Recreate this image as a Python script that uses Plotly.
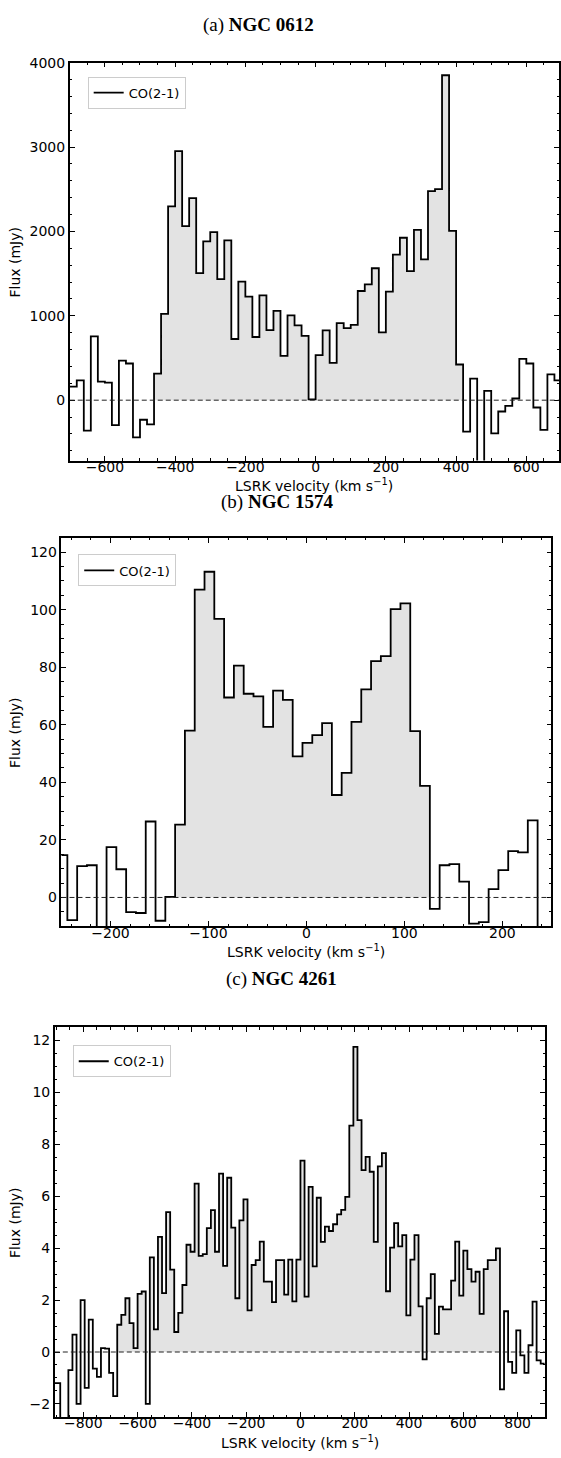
import numpy as np
import plotly.graph_objects as go

W, H = 561, 1458

# (a) NGC 0612, 20 km/s channels
vel_a = np.arange(-690, 700, 20)
flux_a = [160, 235, -361, 756, 219, 207, -295, 470, 435, -440,
          -232, -287, 314, 1023, 2298, 2952, 2062, 2396, 1506, 1882,
          1992, 1435, 1894, 725, 1404, 1227, 749, 1243, 831, 1058,
          525, 1004, 886, 761, 10, 533, 827, 443, 913, 854,
          893, 1294, 1372, 1564, 804, 1286, 1725, 1925, 1529, 2019,
          1670, 2478, 2502, 3851, 2007, 423, -373, 255, -900, 110,
          -393, -134, -67, 20, 490, 435, -87, -353, 306, 235]

# (b) NGC 1574, 10 km/s channels
vel_b = np.arange(-249, 260, 10)
flux_b = [14.7, -7.9, 10.9, 11.2, -14, 17.5, 9.8, -5.1, -5.4, 26.4,
          -8.1, 0.2, 25.3, 58.0, 107.0, 113.2, 96.8, 69.5, 80.6, 70.8,
          69.9, 59.3, 71.9, 68.7, 49.0, 53.7, 56.4, 60.6, 35.6, 43.3,
          61.0, 72.3, 82.1, 83.9, 100.2, 102.2, 57.8, 38.8, -4.0, 11.2,
          11.6, 5.5, -9.1, -8.6, 2.9, 9.5, 16.1, 15.7, 26.8, -15,
          -15]

# (c) NGC 4261, 15 km/s channels
vel_c = np.arange(-907.5, 900, 15)
flux_c = [-1.2, -1.2, -3.2, -3.0, -0.7, 0.67, -2.0, 2.0, -1.38, 1.25,
          -0.64, -0.96, 0.15, 0.13, -0.8, -1.7, 1.05, 1.43, 2.07, 1.11,
          0.15, 2.24, 2.33, -2.0, 3.64, 0.87, 4.43, 2.27, 5.39, 3.17,
          0.77, 1.51, 2.58, 4.13, 3.86, 6.48, 3.7, 3.77, 4.77, 5.46,
          3.86, 6.87, 3.32, 6.71, 4.79, 2.07, 5.07, 5.88, 1.6, 3.35,
          3.54, 4.25, 2.71, 2.71, 1.92, 3.54, 3.54, 2.21, 3.56, 1.95,
          3.56, 7.37, 2.13, 6.36, 3.3, 5.94, 4.24, 4.83, 4.66, 4.92,
          5.3, 5.47, 5.97, 8.72, 11.75, 8.93, 7.0, 7.51, 6.94, 4.24,
          7.15, 7.66, 2.34, 4.02, 4.96, 4.07, 4.5, 1.41, 3.56, 4.5,
          1.76, -0.28, 2.07, 3.0, 0.7, 1.75, 1.64, 1.64, 2.75, 4.25,
          2.17, 3.9, 3.19, 2.71, 3.09, 1.47, 3.19, 3.54, 3.54, 3.99,
          -1.44, 1.57, -0.38, -0.8, 0.83, -0.13, -0.8, 0.26, 1.94, -0.32,
          -0.45]

titulos = ["(a) <b>NGC 0612</b>", "(b) <b>NGC 1574</b>", "(c) <b>NGC 4261</b>"]
faixa_linha = [(-450, 410), (-129, 121), (-667.5, 727.5)]

# caixas em pixels: esquerda, direita, topo, base
paineis = [
    dict(box=(70, 561, 55, 455), xr=[-700, 693], yr=[-715, 4000],
         xd=200, xm=50, yd=1000, ym=200, title_xy=(259, 17), leg=(88, 69)),
    dict(box=(61.7, 553.3, 532.7, 923.3), xr=[-250, 250], yr=[-10, 125],
         xd=100, xm=20, yd=20, ym=5, title_xy=(278, 497), leg=(78.5, 549.5)),
    dict(box=(55, 546.7, 1025, 1416.7), xr=[-905, 900], yr=[-2.5, 12.5],
         xd=200, xm=50, yd=2, ym=0.5, title_xy=(283, 976), leg=(73, 1043)),
]

FONTE = "DejaVu Sans"
CINZA = "#e3e3e3"


def degraus(vel, flux):
    dv = vel[1] - vel[0]
    x = np.append(vel - dv / 2, vel[-1] + dv / 2)
    y = np.append(flux, flux[-1])
    return x, y


fig = go.Figure()
dados = [(vel_a, flux_a), (vel_b, flux_b), (vel_c, flux_c)]
anotacoes = []
formas = []

for i, ((vel, flux), p) in enumerate(zip(dados, paineis)):
    n = "" if i == 0 else str(i + 1)
    xa, ya = "x" + n, "y" + n
    flux = np.array(flux, dtype=float)

    lo, hi = faixa_linha[i]
    m = (vel >= lo) & (vel <= hi)
    fx, fy = degraus(vel[m], np.clip(flux[m], 0, None))
    fig.add_trace(go.Scatter(x=fx, y=fy, mode="lines", line=dict(width=0, shape="hv"),
                             fill="tozeroy", fillcolor=CINZA, showlegend=False,
                             hoverinfo="skip", xaxis=xa, yaxis=ya))

    sx, sy = degraus(vel, flux)
    fig.add_trace(go.Scatter(x=sx, y=sy, mode="lines", name="CO(2-1)",
                             line=dict(color="black", width=1.8, shape="hv"),
                             xaxis=xa, yaxis=ya, legend="legend" + n))

    formas.append(dict(type="line", xref=xa + " domain", yref=ya, x0=0, x1=1, y0=0, y1=0,
                       line=dict(color="#222", width=1, dash="5px,3px"), layer="above"))

    l, r, t, b = p["box"]
    eixo = dict(showgrid=False, zeroline=False, showline=True, linecolor="black",
                linewidth=1.5, mirror="allticks", ticks="inside", ticklen=5,
                tickwidth=1.2, tickcolor="black",
                tickfont=dict(family=FONTE, size=14, color="black"))
    fig.update_layout({
        "xaxis" + n: dict(eixo, domain=[l / W, r / W], range=p["xr"], anchor=ya,
                          dtick=p["xd"], tick0=0, ticklabelstandoff=-7,
                          minor=dict(ticks="inside", ticklen=2.5, dtick=p["xm"],
                                     tick0=0, tickcolor="black", tickwidth=1)),
        "yaxis" + n: dict(eixo, domain=[1 - b / H, 1 - t / H], range=p["yr"], anchor=xa,
                          dtick=p["yd"], tick0=0,
                          minor=dict(ticks="inside", ticklen=2.5, dtick=p["ym"],
                                     tick0=0, tickcolor="black", tickwidth=1)),
        "legend" + n: dict(x=p["leg"][0] / W, y=1 - p["leg"][1] / H, xanchor="left",
                           yanchor="top", bgcolor="white", bordercolor="#cccccc",
                           borderwidth=1, font=dict(family=FONTE, size=13, color="black")),
    })

    tx, ty = p["title_xy"]
    anotacoes.append(dict(text=titulos[i], x=tx / W, y=1 - ty / H, xref="paper", yref="paper",
                          showarrow=False, xanchor="center", yanchor="middle",
                          font=dict(family="Liberation Serif", size=19, color="black")))
    anotacoes.append(dict(text="LSRK velocity (km s<sup>−1</sup>)", x=(l + r) / 2 / W,
                          y=1 - (b + 25) / H, xref="paper", yref="paper", showarrow=False,
                          xanchor="center", yanchor="middle",
                          font=dict(family=FONTE, size=14, color="black")))
    anotacoes.append(dict(text="Flux (mJy)", x=15 / W, y=1 - (t + b) / 2 / H, xref="paper",
                          yref="paper", showarrow=False, textangle=-90, xanchor="center",
                          yanchor="middle", font=dict(family=FONTE, size=14, color="black")))

fig.update_layout(width=W, height=H, margin=dict(l=0, r=0, t=0, b=0),
                  paper_bgcolor="white", plot_bgcolor="white",
                  annotations=anotacoes, shapes=formas)

# sem margem no body para o grafico ocupar exatamente a janela
fig.write_html("out.html", config={"displayModeBar": False},
               post_script="document.body.style.margin='0';document.body.style.overflow='hidden';")
